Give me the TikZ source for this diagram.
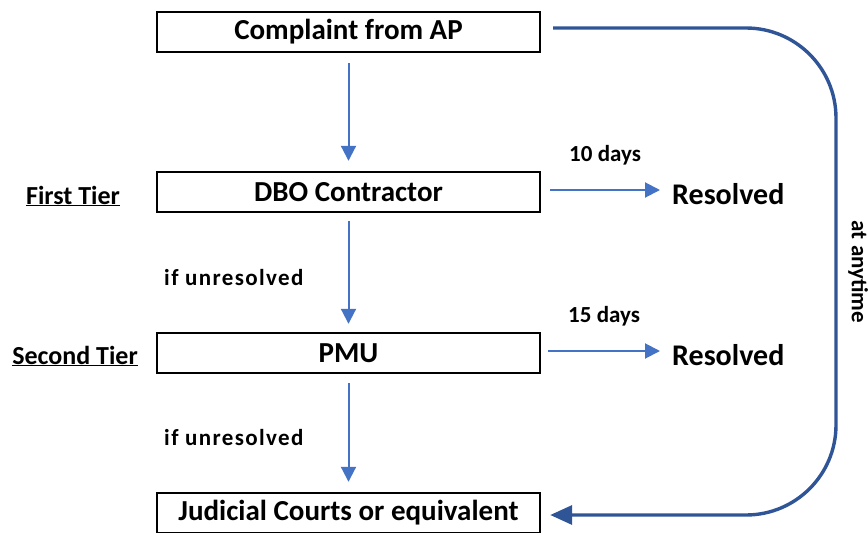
\documentclass[tikz,border=0pt]{standalone}
\usepackage{fontspec}
\setmainfont{Carlito}
\usetikzlibrary{arrows.meta,positioning}

\definecolor{lineblue}{RGB}{68,114,196}
\definecolor{darkblue}{RGB}{47,85,151}

\begin{document}
\begin{tikzpicture}[x=1pt,y=-1pt,font=\bfseries,
  >={Triangle[length=15pt,width=15pt]}]
  \tikzstyle{stage}=[draw=black,line width=2.4pt,minimum width=383pt,
    minimum height=40pt,inner sep=0pt,font=\fontsize{29}{31}\bfseries]
  \tikzstyle{flow}=[every edge/.style={draw=lineblue,line width=2pt,->}]
  \tikzstyle{note}=[font=\fontsize{23}{26}\bfseries,inner sep=0pt]
  \tikzstyle{spaced}=[font=\fontsize{23}{26}\bfseries\addfontfeatures{LetterSpace=6}]
  \tikzstyle{tier}=[font=\fontsize{26}{28}\bfseries,inner sep=0pt]
  \tikzstyle{result}=[font=\fontsize{30}{32}\bfseries,inner sep=0pt]

  \useasboundingbox (0,0) rectangle (868,533);

  \node[stage]  (cmp) at (348.5,32)  {Complaint from AP};
  \node[stage]  (dbo) at (348.5,192) {DBO Contractor};
  \node[stage]  (pmu) at (348.5,353) {PMU};
  \node[stage]  (jud) at (348.5,513) {Judicial Courts or equivalent};

  \node[tier]   (t1)  at (73,196)  {\underline{First Tier}};
  \node[tier]   (t2)  at (75,356)  {\underline{Second Tier}};

  \node[result,anchor=west] (res1) at (672,194) {Resolved};
  \node[result,anchor=west] (res2) at (672,355) {Resolved};

  \path[flow] ([yshift=-10pt]cmp.south) edge ([yshift=10pt]dbo.north)
              ([yshift=-8pt]dbo.south)  edge node[note,spaced,left=44pt,pos=0.55] {if unresolved} ([yshift=8pt]pmu.north)
              ([yshift=-9pt]pmu.south)  edge node[note,spaced,left=44pt,pos=0.55] {if unresolved} ([yshift=10pt]jud.north)
              ([xshift=9pt,yshift=2pt]dbo.east)  edge node[note,above=24pt] {10 days} ([xshift=-12pt,yshift=4pt]res1.west)
              ([xshift=7pt,yshift=2pt]pmu.east)  edge node[note,above=24pt] {15 days} ([xshift=-12pt,yshift=4pt]res2.west);

  % escalation at any time
  \coordinate (rt) at (836,272);
  \draw[->,darkblue,line width=3.4pt,rounded corners=90pt,
        >={Triangle[length=22pt,width=19pt]}]
    ([xshift=12pt,yshift=4pt]cmp.east) -| (rt) |- ([xshift=9pt,yshift=-2pt]jud.east);
  \node[note,rotate=-90,right=12pt of rt,anchor=south] (any) {at anytime};
\end{tikzpicture}
\end{document}
